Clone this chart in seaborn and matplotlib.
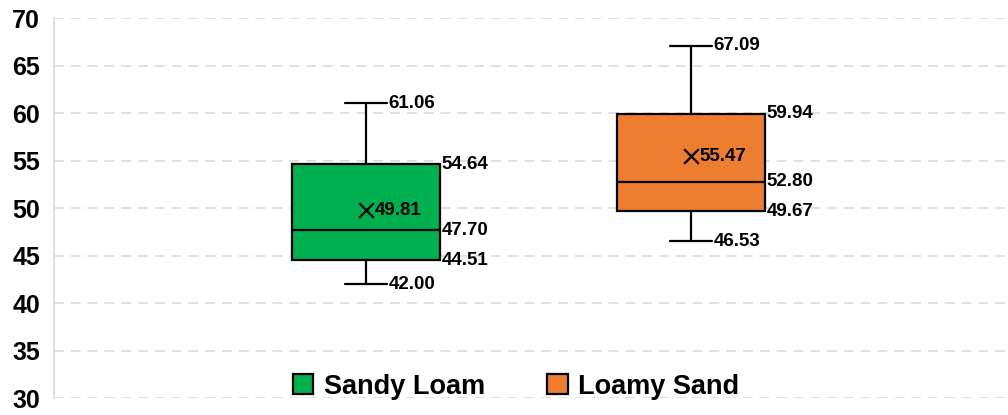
import pandas as pd
import seaborn as sns
import matplotlib.pyplot as plt

sns.set_theme(style="white")
plt.rcParams['font.family'] = ['Liberation Sans', 'DejaVu Sans']

soils = ["Sandy Loam", "Loamy Sand"]
colors = ["#00B050", "#ED7D31"]
mins = [42.00, 46.53]
q1s = [44.51, 49.67]
medians = [47.70, 52.80]
q3s = [54.64, 59.94]
maxs = [61.06, 67.09]
means = [49.81, 55.47]

# five points per soil -> quartiles come out exactly as the stats above
rows = []
for s, a, b, c, d, e in zip(soils, mins, q1s, medians, q3s, maxs):
    for v in (a, b, c, d, e):
        rows.append((s, v))
dat = pd.DataFrame(rows, columns=["soil", "value"])

fig = plt.figure(figsize=(10.08, 4.15), dpi=100)
ax = fig.add_axes([0.0536, 0.04, 0.9464, 0.9166])

bw = 0.455
cw = 0.13
sns.boxplot(data=dat, x="soil", y="value", hue="soil", palette=colors,
            width=bw, whis=(0, 100), saturation=1, linecolor="black",
            linewidth=1.6, capwidths=cw, legend=True, ax=ax)

# mean markers
ax.scatter(x=range(len(soils)), y=means, marker="x", color="black",
           s=110, linewidths=1.6, zorder=5)

lab = dict(va="center", ha="left", fontsize=13.5, fontweight="bold",
           color="black", textcoords="offset points")
for i in range(len(soils)):
    ax.annotate(f"{maxs[i]:.2f}", (i + cw / 2, maxs[i]), xytext=(1, 0), **lab)
    ax.annotate(f"{mins[i]:.2f}", (i + cw / 2, mins[i]), xytext=(1, 0), **lab)
    for v in (q3s[i], medians[i], q1s[i]):
        ax.annotate(f"{v:.2f}", (i + bw / 2, v), xytext=(1, 0), **lab)
    ax.annotate(f"{means[i]:.2f}", (i, means[i]), xytext=(6, 0), **lab)

ax.set_xlim(-0.96, 1.975)
ax.set_ylim(30, 70)
ax.set_yticks(range(30, 71, 5))
ax.set_xticks([])
ax.set_xlabel("")
ax.set_ylabel("")
ax.yaxis.grid(True, color="#D9D9D9", linestyle=(0, (6.5, 4.5)), linewidth=1.1)
ax.set_axisbelow(True)
for sp in ["top", "right", "bottom"]:
    ax.spines[sp].set_visible(False)
ax.spines["left"].set_color("#D9D9D9")
ax.spines["left"].set_linewidth(1.2)
ax.tick_params(axis="y", length=0, pad=10, labelsize=18, labelcolor="black")
for t in ax.get_yticklabels():
    t.set_fontweight("bold")

sns.move_legend(ax, "center", bbox_to_anchor=(0.512, 0.068),
                bbox_transform=fig.transFigure, ncol=2, frameon=False,
                title=None, handlelength=0.75, handleheight=0.75,
                handletextpad=0.4, columnspacing=2.3,
                prop={"weight": "bold", "size": 19.5})
for t in ax.get_legend().get_texts():
    t.set_color("black")

plt.savefig("out.png", dpi=100)
